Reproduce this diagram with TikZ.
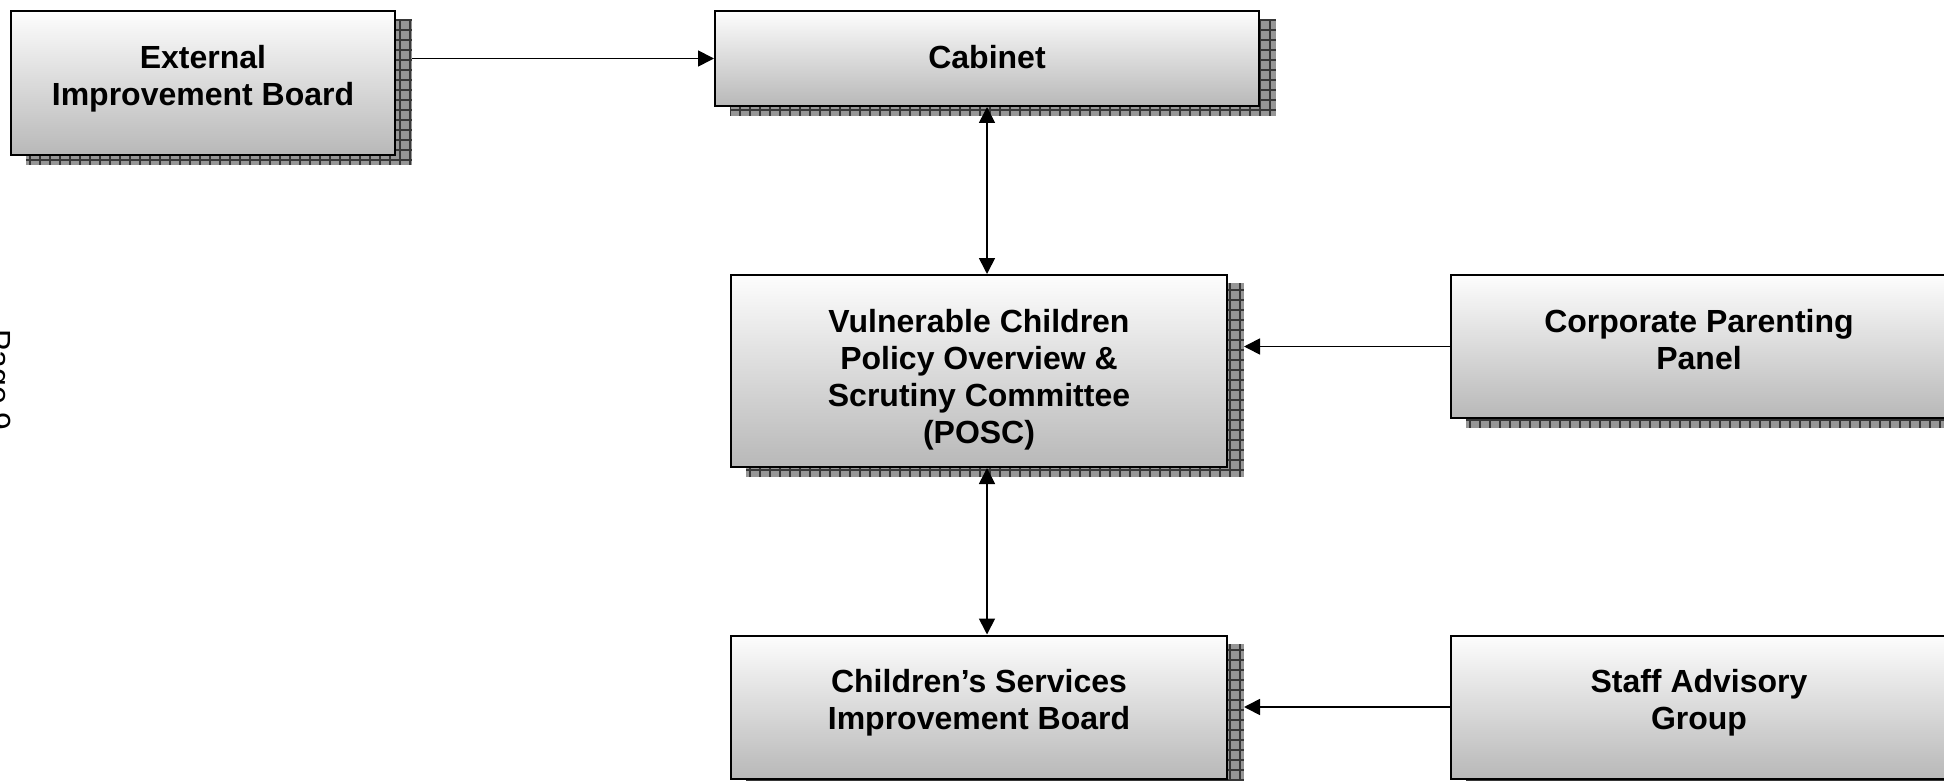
\documentclass[tikz,border=0pt]{standalone}
\usepackage{fontspec}
\setmainfont{Liberation Sans}
\usetikzlibrary{arrows.meta,backgrounds}
\definecolor{boxtop}{RGB}{253,253,253}
\definecolor{boxbot}{RGB}{184,184,184}
\definecolor{shadowfill}{RGB}{150,150,150}
\definecolor{shadowline}{RGB}{55,55,55}
\newcommand\boxlines[3]{\parbox[c][#2][t]{#1}{\centering\bfseries\fontsize{16pt}{18.65pt}\selectfont\vspace*{15.45pt}\strut #3}}
\tikzset{
  orgbox/.style={draw=black, line width=1pt, inner sep=0pt, anchor=north west,
    top color=boxtop, bottom color=boxbot},
  arr/.style={line width=0.85pt, -{Triangle[length=8pt,width=8pt]}},
  darr/.style={line width=0.85pt, {Triangle[length=8pt,width=8pt]}-{Triangle[length=8pt,width=8pt]}},
  shadowgrid/.style={draw=shadowline, line width=0.65pt}
}
\begin{document}
\begin{tikzpicture}[x=0.5pt,y=-0.5pt]
\useasboundingbox (0,0) rectangle (1944,781);

\node[orgbox] (ext) at (10,10) {\boxlines{192pt}{72pt}{External\\Improvement Board}};
\node[orgbox] (cab) at (714,10) {\boxlines{272pt}{47.5pt}{Cabinet}};
\node[orgbox] (vc) at (730,274) {\boxlines{248pt}{96pt}{Vulnerable Children\\Policy Overview \&\\Scrutiny Committee\\(POSC)}};
\node[orgbox] (corp) at (1450,274) {\boxlines{248pt}{71.5pt}{Corporate Parenting\\Panel}};
\node[orgbox] (cs) at (730,634.5) {\boxlines{248pt}{71.5pt}{Children’s Services\\Improvement Board}};
\node[orgbox] (staff) at (1450,634.5) {\boxlines{248pt}{71.5pt}{Staff Advisory\\Group}};

\node[anchor=base, rotate=-90, inner sep=0pt, font=\fontsize{16pt}{19pt}\selectfont] (page) at (-11,380) {Page 9};

\begin{pgfonlayer}{background}
\foreach \n in {ext,cab,vc,corp,cs,staff}{
  \fill[shadowfill] ([shift={(8pt,-4.5pt)}]\n.south west) rectangle ([shift={(8pt,-4.5pt)}]\n.north east);
  \begin{scope}
    \clip ([shift={(8pt,-4.5pt)}]\n.south west) rectangle ([shift={(8pt,-4.5pt)}]\n.north east);
    \draw[shadowgrid, step=5pt] ([shift={(8pt,-4.5pt)}]\n.south west) grid ([shift={(8pt,-4.5pt)}]\n.north east);
  \end{scope}
}
\end{pgfonlayer}

\coordinate (extshE) at ([xshift=8pt]ext.east);
\coordinate (vcshE) at ([xshift=8pt]vc.east);
\coordinate (csshE) at ([xshift=8pt]cs.east);

\draw[arr] (extshE |- cab.west) -- (cab.west);
\draw[darr] (cab.south) -- (cab.south |- vc.north);
\draw[darr] (vc.south -| cab.south) -- (cs.north -| cab.south);
\draw[arr] (corp.west) -- (vcshE |- corp.west);
\draw[arr] (staff.west) -- (csshE |- staff.west);
\end{tikzpicture}
\end{document}
